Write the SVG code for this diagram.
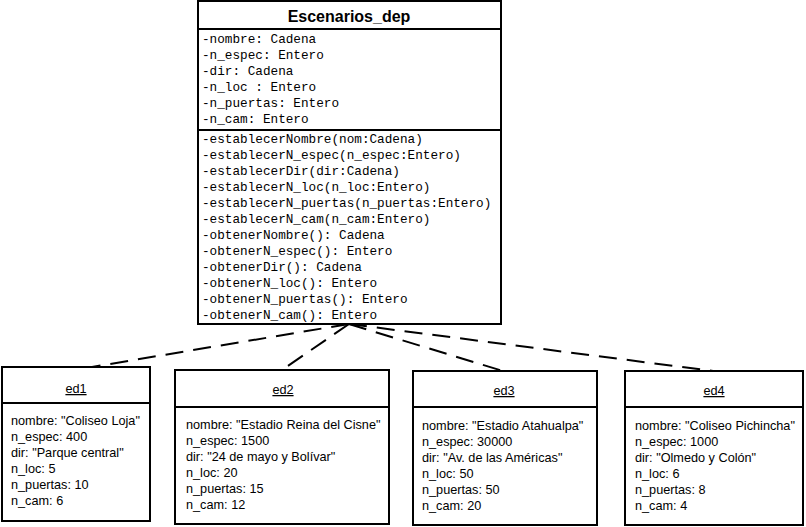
<svg xmlns="http://www.w3.org/2000/svg" width="806" height="527" viewBox="0 0 806 527">
<style>
.box{fill:#fff;stroke:#000;stroke-width:2}
.div{stroke:#000;stroke-width:2}
.title{font-family:"Liberation Sans",Arial,sans-serif;font-weight:bold;font-size:16px;text-anchor:middle}
.mono{font-family:"Liberation Mono","Courier New",monospace;font-size:12.7px}
.obj{font-family:"Liberation Sans",Arial,sans-serif;font-size:12.7px}
.oname{font-family:"Liberation Sans",Arial,sans-serif;font-size:12.7px;text-anchor:middle;text-decoration:underline}
.conn{stroke:#000;stroke-width:2;stroke-dasharray:18 10;fill:none}
</style>
<rect width="806" height="527" fill="#fff"/>
<g id="connectors">
<line class="conn" x1="349" y1="324" x2="92" y2="367"/>
<line class="conn" x1="349" y1="324" x2="282" y2="370"/>
<line class="conn" x1="349" y1="324" x2="503" y2="371"/>
<line class="conn" x1="349" y1="324" x2="713" y2="371"/>
</g>
<g id="Escenarios_dep">
<rect class="box" x="198" y="1" width="303" height="323"/>
<line class="div" x1="198" y1="29" x2="501" y2="29"/>
<line class="div" x1="198" y1="130" x2="501" y2="130"/>
<text class="title" x="349" y="22">Escenarios_dep</text>
<text class="mono" x="202" y="43">-nombre: Cadena</text>
<text class="mono" x="202" y="59">-n_espec: Entero</text>
<text class="mono" x="202" y="75">-dir: Cadena</text>
<text class="mono" x="202" y="91">-n_loc : Entero</text>
<text class="mono" x="202" y="107">-n_puertas: Entero</text>
<text class="mono" x="202" y="123">-n_cam: Entero</text>
<text class="mono" x="202" y="143">-establecerNombre(nom:Cadena)</text>
<text class="mono" x="202" y="159">-establecerN_espec(n_espec:Entero)</text>
<text class="mono" x="202" y="175">-establecerDir(dir:Cadena)</text>
<text class="mono" x="202" y="191">-establecerN_loc(n_loc:Entero)</text>
<text class="mono" x="202" y="207">-establecerN_puertas(n_puertas:Entero)</text>
<text class="mono" x="202" y="223">-establecerN_cam(n_cam:Entero)</text>
<text class="mono" x="202" y="239">-obtenerNombre(): Cadena</text>
<text class="mono" x="202" y="255">-obtenerN_espec(): Entero</text>
<text class="mono" x="202" y="271">-obtenerDir(): Cadena</text>
<text class="mono" x="202" y="287">-obtenerN_loc(): Entero</text>
<text class="mono" x="202" y="303">-obtenerN_puertas(): Entero</text>
<text class="mono" x="202" y="319">-obtenerN_cam(): Entero</text>
</g>
<g id="ed1">
<rect class="box" x="2" y="367" width="148" height="154"/>
<line class="div" x1="2" y1="403" x2="150" y2="403"/>
<text class="oname" x="76" y="393">ed1</text>
<text class="obj" x="11" y="425">nombre: "Coliseo Loja"</text>
<text class="obj" x="11" y="441">n_espec: 400</text>
<text class="obj" x="11" y="457">dir: "Parque central"</text>
<text class="obj" x="11" y="473">n_loc: 5</text>
<text class="obj" x="11" y="489">n_puertas: 10</text>
<text class="obj" x="11" y="505">n_cam: 6</text>
</g>
<g id="ed2">
<rect class="box" x="175" y="370" width="214" height="154"/>
<line class="div" x1="175" y1="407" x2="389" y2="407"/>
<text class="oname" x="283" y="394">ed2</text>
<text class="obj" x="186" y="429">nombre: "Estadio Reina del Cisne"</text>
<text class="obj" x="186" y="445">n_espec: 1500</text>
<text class="obj" x="186" y="461">dir: "24 de mayo y Bolívar"</text>
<text class="obj" x="186" y="477">n_loc: 20</text>
<text class="obj" x="186" y="493">n_puertas: 15</text>
<text class="obj" x="186" y="509">n_cam: 12</text>
</g>
<g id="ed3">
<rect class="box" x="413" y="371" width="184" height="154"/>
<line class="div" x1="413" y1="407" x2="597" y2="407"/>
<text class="oname" x="504" y="395">ed3</text>
<text class="obj" x="422" y="430">nombre: "Estadio Atahualpa"</text>
<text class="obj" x="422" y="446">n_espec: 30000</text>
<text class="obj" x="422" y="462">dir: "Av. de las Américas"</text>
<text class="obj" x="422" y="478">n_loc: 50</text>
<text class="obj" x="422" y="494">n_puertas: 50</text>
<text class="obj" x="422" y="510">n_cam: 20</text>
</g>
<g id="ed4">
<rect class="box" x="625" y="371" width="178" height="154"/>
<line class="div" x1="625" y1="407" x2="803" y2="407"/>
<text class="oname" x="714" y="395">ed4</text>
<text class="obj" x="635" y="430">nombre: "Coliseo Pichincha"</text>
<text class="obj" x="635" y="446">n_espec: 1000</text>
<text class="obj" x="635" y="462">dir: "Olmedo y Colón"</text>
<text class="obj" x="635" y="478">n_loc: 6</text>
<text class="obj" x="635" y="494">n_puertas: 8</text>
<text class="obj" x="635" y="510">n_cam: 4</text>
</g>
</svg>
